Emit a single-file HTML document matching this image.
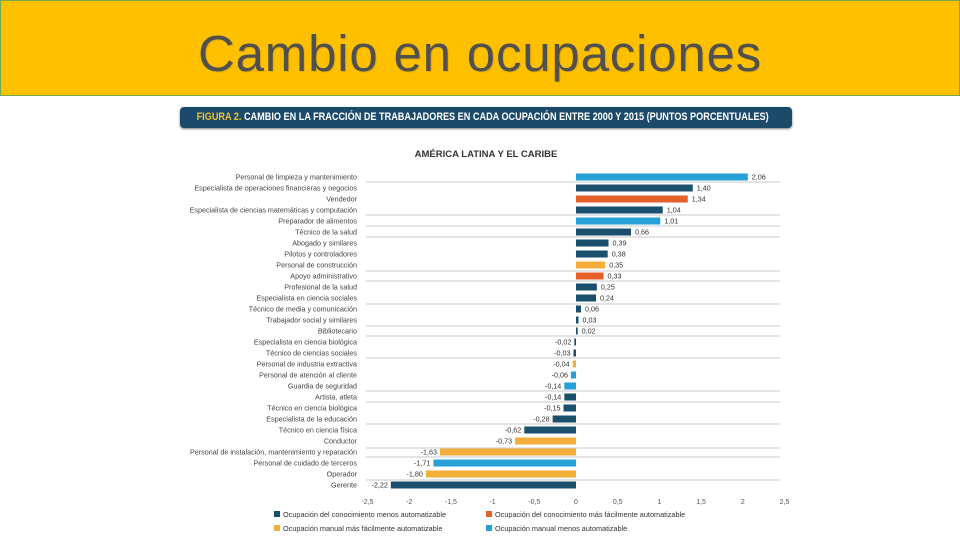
<!DOCTYPE html>
<html><head><meta charset="utf-8"><style>
body{margin:0;width:960px;height:540px;background:#fff;position:relative;overflow:hidden;font-family:"Liberation Sans",sans-serif}
#hdr{position:absolute;left:0;top:0;width:958px;height:94px;background:#ffc000;border:1px solid #7aa64a}
#title{position:absolute;left:0;width:960px;top:24px;text-align:center;font-size:51px;color:#505050;text-shadow:1px 1px 1px rgba(0,0,0,.12);letter-spacing:0.8px}
#banner{position:absolute;left:180px;top:107px;width:612px;height:21px;background:#1b4a6a;border-radius:4px;box-shadow:0 1px 2px #777;overflow:hidden}
#btxt{position:absolute;left:0;top:0;white-space:nowrap;color:#fff;font-size:11px;line-height:21px;font-weight:bold;transform-origin:0 0;transform:scaleX(0.83) translateX(20px)}
</style></head><body>
<div id="hdr"></div>
<div id="title">Cambio en ocupaciones</div>
<div id="banner"><div id="btxt"><span style="color:#f2c230">FIGURA 2.</span> CAMBIO EN LA FRACCIÓN DE TRABAJADORES EN CADA OCUPACIÓN ENTRE 2000 Y 2015 (PUNTOS PORCENTUALES)</div></div>
<svg id="chart" width="960" height="540" style="position:absolute;left:0;top:0" xmlns="http://www.w3.org/2000/svg"></svg>
<script>
const categories=["Personal de limpieza y mantenimiento","Especialista de operaciones financieras y negocios","Vendedor","Especialista de ciencias matemáticas y computación","Preparador de alimentos","Técnico de la salud","Abogado y similares","Pilotos y controladores","Personal de construcción","Apoyo administrativo","Profesional de la salud","Especialista en ciencia sociales","Técnico de media y comunicación","Trabajador social y similares","Bibliotecario","Especialista en ciencia biológica","Técnico de ciencias sociales","Personal de industria extractiva","Personal de atención al cliente","Guardia de seguridad","Artista, atleta","Técnico en ciencia biológica","Especialista de la educación","Técnico en ciencia física","Conductor","Personal de instalación, mantenimiento y reparación","Personal de cuidado de terceros","Operador","Gerente"];
const values=[2.06,1.40,1.34,1.04,1.01,0.66,0.39,0.38,0.35,0.33,0.25,0.24,0.06,0.03,0.02,-0.02,-0.03,-0.04,-0.06,-0.14,-0.14,-0.15,-0.28,-0.62,-0.73,-1.63,-1.71,-1.80,-2.22];
const groups=[3,0,1,0,3,0,0,0,2,1,0,0,0,0,0,0,0,2,3,3,0,0,0,0,2,2,3,2,0];
const groupNames=["Ocupación del conocimiento menos automatizable","Ocupación del conocimiento más fácilmente automatizable","Ocupación manual más fácilmente automatizable","Ocupación manual menos automatizable"];
const ticks=[-2.5,-2,-1.5,-1,-0.5,0,0.5,1,1.5,2,2.5];
const colors=["#1b4f6e","#e5602b","#f4ae3a","#27a0d8"];
const svg=document.getElementById('chart');const NS="http://www.w3.org/2000/svg";
const x=v=>576+v*83.4;const y=i=>177+i*11;
function mk(t,a,txt){const e=document.createElementNS(NS,t);for(const k in a)e.setAttribute(k,a[k]);if(txt!==undefined)e.textContent=txt;svg.appendChild(e);return e;}
const sub=mk('text',{x:486,y:157,'text-anchor':'middle','font-size':'9.5','font-weight':'bold',fill:'#333'},'AMÉRICA LATINA Y EL CARIBE');


[182,215,226,237,271,281,304,326,336,358,391,402,424,448,457,480].forEach(ly=>{const l=mk('line',{x1:366,x2:780,y1:ly,y2:ly,stroke:'#c8c8c8','stroke-width':1});

});
categories.forEach((c,i)=>{
 const v=values[i];const cy=y(i);
 const lab=mk('text',{x:357,y:cy+2.5,'text-anchor':'end','font-size':'7.2',fill:'#444'},c);
 
 
 const x0=Math.min(x(0),x(v)),w=Math.max(1.5,Math.abs(x(v)-x(0)));
 const r=mk('rect',{x:x0,y:cy-3.5,width:w,height:7,fill:colors[groups[i]]});
 
 
 const s=v.toFixed(2).replace('.',',');
 const vl=mk('text',{x:v>=0?x(v)+4:x(v)-3,y:cy+2.5,'text-anchor':v>=0?'start':'end','font-size':'7.2',fill:'#333'},s);
 
 
});
ticks.forEach(t=>{const tl=mk('text',{x:x(t),y:504,'text-anchor':'middle','font-size':'7',fill:'#555'},String(t).replace('.',','));

});
const lx=[274,486],ly=[517,531];
groupNames.forEach((g,i)=>{const gx=lx[i%2],gy=ly[Math.floor(i/2)];
 const sq=mk('rect',{x:gx,y:gy-6,width:6,height:6,fill:colors[i]});
 
 
 const lt=mk('text',{x:gx+9,y:gy,'font-size':'7.3',fill:'#333'},g);
 
 
});
</script>
</body></html>
